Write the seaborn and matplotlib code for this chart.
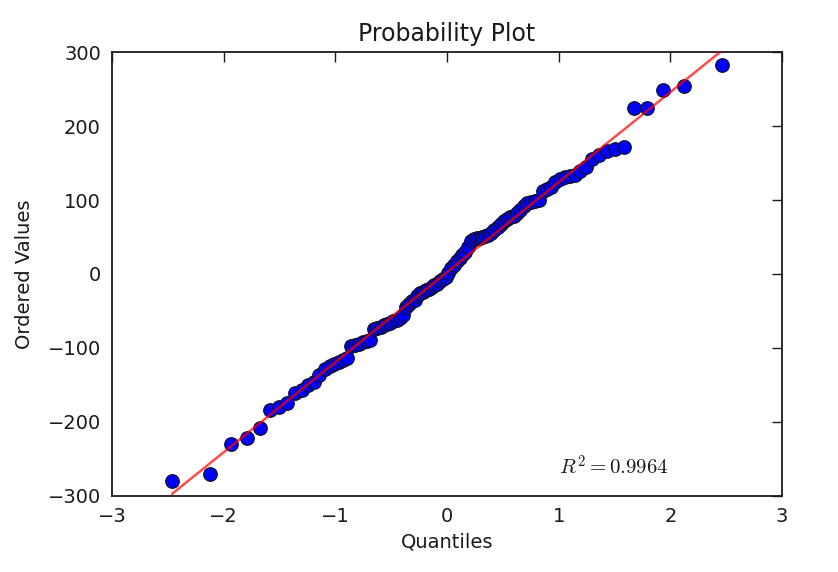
import numpy as np
import pandas as pd
import matplotlib
matplotlib.use("Agg")
import matplotlib.pyplot as plt
import seaborn as sns
from statistics import NormalDist

# ordered sample values (n = 100)
ordered_values = [
    -280, -270, -230, -222, -208, -184, -180, -175, -161, -157,
    -150, -146, -137, -128, -125, -122, -119, -116, -113, -98,
    -96, -94, -92, -91, -89, -75, -73, -71, -69, -68,
    -66, -64, -62, -59, -56, -45, -40, -37, -35, -30,
    -26, -24, -22, -20, -17, -15, -13, -10, -7, -4,
    2, 8, 12, 18, 22, 25, 30, 37, 45, 47,
    48, 49, 50, 51, 53, 56, 60, 64, 68, 72,
    75, 77, 79, 82, 86, 92, 96, 97, 98, 100,
    112, 115, 117, 125, 128, 131, 133, 134, 139, 145,
    155, 161, 166, 169, 171, 225, 225, 249, 254, 282,
]
r_squared_label = "0.9964"

# theoretical normal quantiles (Filliben order statistic medians)
n = len(ordered_values)
med = [(i - 0.3175) / (n + 0.365) for i in range(1, n + 1)]
med[-1] = 0.5 ** (1.0 / n)
med[0] = 1 - med[-1]
quantiles = [NormalDist().inv_cdf(p) for p in med]

df = pd.DataFrame({"Quantiles": quantiles, "Ordered Values": ordered_values})
slope, intercept = np.polyfit(df["Quantiles"], df["Ordered Values"], 1)
df["fit"] = slope * df["Quantiles"] + intercept

sns.set_style("white")
plt.rcParams["font.family"] = ["DejaVu Sans"]

fig = plt.figure(figsize=(8.38, 5.72), dpi=100)
ax = fig.add_axes([0.1337, 0.133, 0.7995, 0.776])

sns.scatterplot(data=df, x="Quantiles", y="Ordered Values", ax=ax,
                color="#0000ff", edgecolor="#101030", linewidth=0.9,
                s=95, zorder=2)
sns.lineplot(data=df, x="Quantiles", y="fit", ax=ax, color="#ff0000",
             alpha=0.7, linewidth=1.8, zorder=3)

ax.set_xlim(-3, 3)
ax.set_ylim(-300, 300)
ax.set_xticks(range(-3, 4))
ax.set_yticks(range(-300, 301, 100))
ax.set_title("Probability Plot", fontsize=17, pad=8, color="#1a1a1a")
ax.set_xlabel("Quantiles", fontsize=14, labelpad=5, color="#1a1a1a")
ax.set_ylabel("Ordered Values", fontsize=14, labelpad=10, color="#1a1a1a")
ax.tick_params(direction="in", length=7, width=1, top=True, right=True,
               labelsize=14, pad=8, colors="#1a1a1a")
for sp in ax.spines.values():
    sp.set_color("#1a1a1a")
    sp.set_linewidth(1.3)

ax.text(1.0, -272, r"$R^2=" + r_squared_label + "$", fontsize=15,
        color="#1a1a1a", math_fontfamily="cm")

fig.savefig("out.png", dpi=100, facecolor="white")
